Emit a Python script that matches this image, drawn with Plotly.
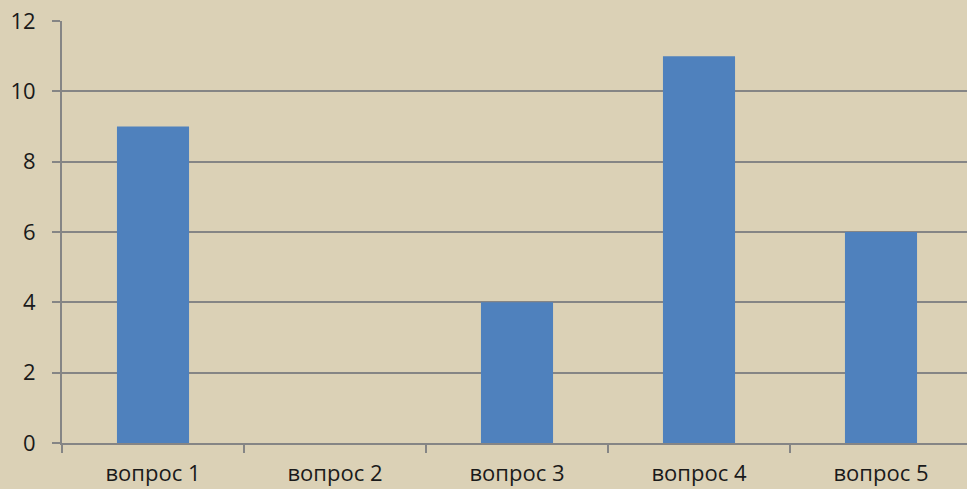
import plotly.graph_objects as go

categories = ["вопрос 1", "вопрос 2", "вопрос 3", "вопрос 4", "вопрос 5"]
values = [9, 0, 4, 11, 6]
y_ticks = [0, 2, 4, 6, 8, 10, 12]

W, H = 967, 489
L, R, T, B = 62, 0, 21, 46
cat_px = 182
x_max = -0.5 + (W - L - R) / cat_px

grid = "#858585"
font = dict(family="Open Sans, Lato, sans-serif", size=22, color="#1a1a1a")

fig = go.Figure(go.Bar(x=list(range(len(categories))), y=values,
                       marker=dict(color="#4f81bd", line=dict(width=0))))

fig.update_layout(
    template="none",
    width=W, height=H,
    margin=dict(l=L, r=R, t=T, b=B, pad=0, autoexpand=False),
    paper_bgcolor="#dbd1b6",
    plot_bgcolor="rgba(0,0,0,0)",
    bargap=0.604,
    showlegend=False,
    font=font,
)
fig.update_xaxes(
    automargin=False,
    range=[-0.5, x_max],
    tickmode="array",
    tickvals=list(range(len(categories))),
    ticktext=categories,
    showgrid=False,
    zeroline=False,
    showline=True, linecolor=grid, linewidth=2,
    ticks="",
    ticklabelstandoff=10,
    ticklabeloverflow="allow",
    tickfont=font,
)
fig.update_xaxes(minor=dict(tickmode="array", tickvals=[i - 0.5 for i in range(len(categories) + 1)],
                            ticks="outside", ticklen=8, tickcolor=grid, tickwidth=2, showgrid=False))
fig.update_yaxes(
    automargin=False,
    range=[0, 12],
    tickmode="array", tickvals=y_ticks,
    showgrid=True, gridcolor=grid, gridwidth=2,
    zeroline=False,
    showline=True, linecolor=grid, linewidth=2,
    ticks="outside", ticklen=8, tickcolor=grid, tickwidth=2,
    ticklabelstandoff=12,
    ticklabeloverflow="allow",
    tickfont=font,
)

fig.write_html("out.html",
               config={"displayModeBar": False},
               post_script="document.body.style.margin='0';document.body.style.background='#dbd1b6';")
